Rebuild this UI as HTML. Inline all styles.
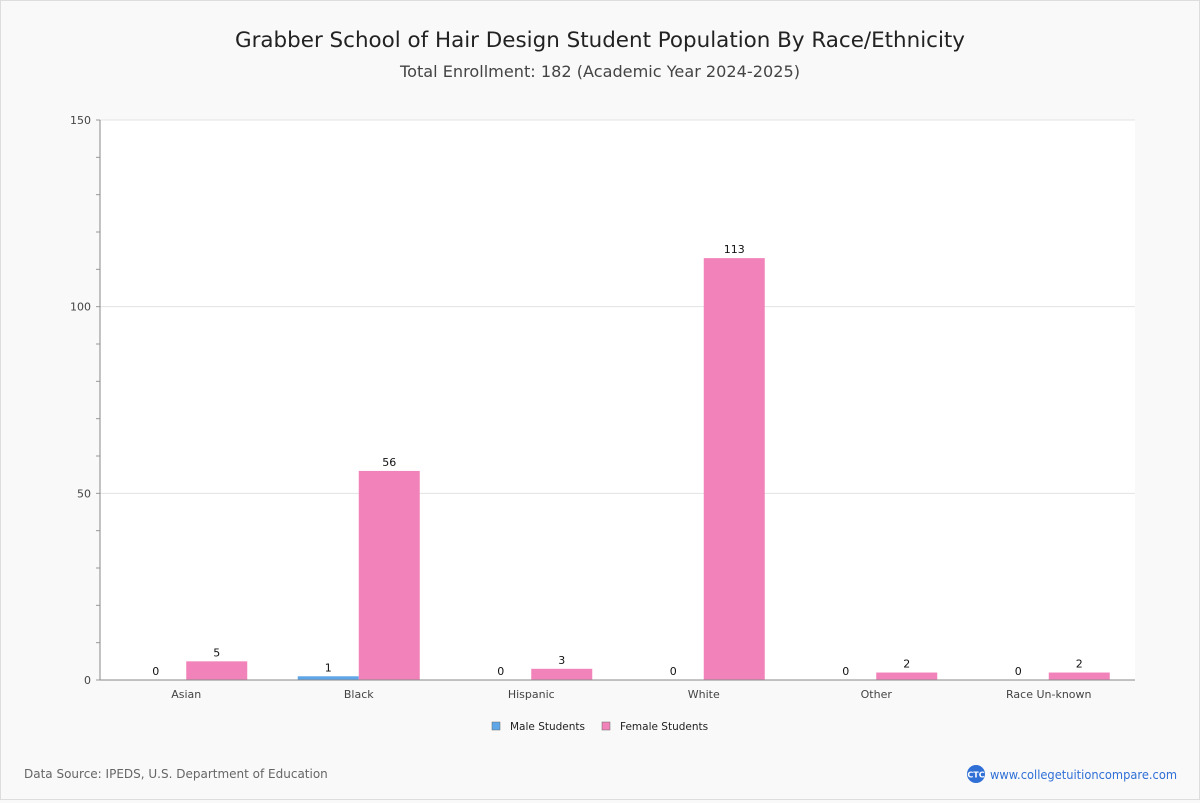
<!DOCTYPE html>
<html><head><meta charset="utf-8"><style>
body{margin:0;background:#f9f9f9;font-family:"DejaVu Sans","Liberation Sans",sans-serif;}
#wrap{position:relative;width:1198px;height:798px;border:1px solid #ddd;background:#f9f9f9;}
</style></head><body>
<div id="wrap">
<svg id="chart" width="1198" height="798">
<text x="599" y="46" text-anchor="middle" font-size="21" fill="#222" textLength="730" lengthAdjust="spacingAndGlyphs">Grabber School of Hair Design Student Population By Race/Ethnicity</text>
<text x="599" y="76" text-anchor="middle" font-size="16" fill="#444" textLength="400" lengthAdjust="spacingAndGlyphs">Total Enrollment: 182 (Academic Year 2024-2025)</text>
<text x="23" y="777" font-size="12" fill="#666">Data Source: IPEDS, U.S. Department of Education</text>
<g>
<circle cx="975" cy="773" r="9" fill="#2f6fd6"/>
<text x="975" y="776.5" text-anchor="middle" font-size="8" fill="#fff" font-weight="bold">CTC</text>
<text x="989" y="778" font-size="12" fill="#2f6fd6" textLength="187" lengthAdjust="spacingAndGlyphs">www.collegetuitioncompare.com</text>
</g>
</svg>
</div>
<script>
const categories=["Asian","Black","Hispanic","White","Other","Race Un-known"];
const maleValues=[0,1,0,0,0,0];
const femaleValues=[5,56,3,113,2,2];
const yTicks=[0,50,100,150];
const seriesNames=["Male Students","Female Students"];
const svg=document.getElementById('chart');
const NS='http://www.w3.org/2000/svg';
const L=99,R=1134,T=119,B=679,yMax=150;
function y(v){return B-(v/yMax)*(B-T);}
const gw=(R-L)/categories.length;
function xc(i){return L+gw*(i+0.5);}
function mk(tag,attrs){const e=document.createElementNS(NS,tag);for(const k in attrs)e.setAttribute(k,attrs[k]);svg.appendChild(e);return e;}
const bg=mk('rect',{x:L,y:T,width:R-L,height:B-T,fill:'#fff'});


yTicks.forEach(t=>{
  if(t>0){const g=mk('line',{x1:L,x2:R,y1:y(t),y2:y(t),stroke:'#e3e3e3'});
  
  }
  const tx=mk('text',{x:L-9,y:y(t)+4,'text-anchor':'end','font-size':11,fill:'#444'});tx.textContent=t;
  
  
});
for(let v=0;v<=yMax;v+=10){const m=mk('line',{x1:L-4,x2:L,y1:y(v),y2:y(v),stroke:'#999'});
  
  }
const bw=61;
categories.forEach((c,i)=>{
  const cx=xc(i);
  const mh=B-y(maleValues[i]);
  const mb=mk('rect',{x:cx-bw,y:y(maleValues[i]),width:bw,height:mh,fill:'#5ea6e8'});
  
  
  const fb=mk('rect',{x:cx,y:y(femaleValues[i]),width:bw,height:B-y(femaleValues[i]),fill:'#f283ba'});
  
  
  const ml=mk('text',{x:cx-bw/2,y:y(maleValues[i])-5,'text-anchor':'middle','font-size':11,fill:'#111'});ml.textContent=maleValues[i];
  
  
  const fl=mk('text',{x:cx+bw/2,y:y(femaleValues[i])-5,'text-anchor':'middle','font-size':11,fill:'#111'});fl.textContent=femaleValues[i];
  
  
  const xl=mk('text',{x:cx,y:B+18,'text-anchor':'middle','font-size':11,fill:'#444'});xl.textContent=c;
  
  
});
const ya=mk('line',{x1:L,x2:L,y1:T,y2:B,stroke:'#888'});


const xa=mk('line',{x1:L,x2:R,y1:B,y2:B,stroke:'#888'});


const lx=[491,601],cols=['#5ea6e8','#f283ba'];
seriesNames.forEach((n,i)=>{
  const r=mk('rect',{x:lx[i],y:721,width:8,height:8,fill:cols[i],stroke:'#666','stroke-width':0.5});
  
  
  const t=mk('text',{x:lx[i]+18,y:729,'font-size':10.5,fill:'#222'});t.textContent=n;
  
  
});
</script>
</body></html>
